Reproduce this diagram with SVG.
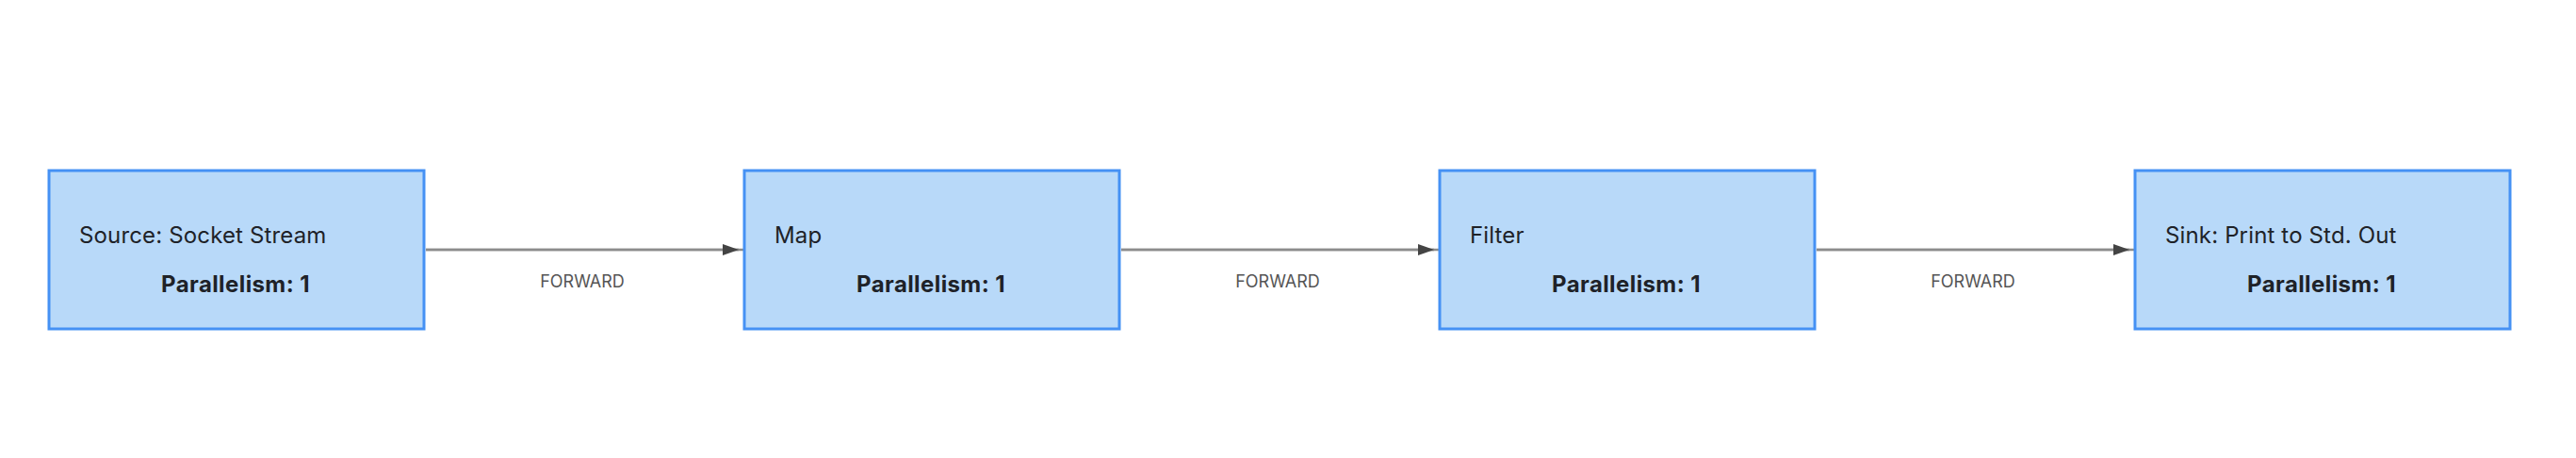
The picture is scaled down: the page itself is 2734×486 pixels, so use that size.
<svg xmlns="http://www.w3.org/2000/svg" width="2734" height="486" viewBox="0 0 2734 486">
  <defs>
    <style>
      .box { fill: #b8d9f9; stroke: #4591f4; stroke-width: 3; }
      .title { font-family: Inter, "Liberation Sans", sans-serif; font-size: 24px; letter-spacing: 0.15px; fill: #1e2228; }
      .par { font-family: Inter, "Liberation Sans", sans-serif; font-size: 24px; font-weight: 700; letter-spacing: 0.4px; fill: #1e2228; text-anchor: middle; }
      .edge { stroke: #8c8c8c; stroke-width: 2.5; fill: none; }
      .elabel { font-family: Inter, "Liberation Sans", sans-serif; font-size: 18px; fill: #555555; text-anchor: middle; }
    </style>
    <marker id="arrow" viewBox="0 0 17 12" refX="17" refY="6" markerWidth="17" markerHeight="12" markerUnits="userSpaceOnUse" orient="auto">
      <path d="M0,0 L17,6 L0,12 z" fill="#444444"/>
    </marker>
  </defs>
  <rect width="2734" height="486" fill="#ffffff"/>
  <g id="connectors">
    <line class="edge" x1="452" y1="265" x2="789" y2="265"/>
    <line class="edge" x1="452" y1="265" x2="784" y2="265" marker-end="url(#arrow)"/>
    <text class="elabel" x="618" y="305">FORWARD</text>
    <line class="edge" x1="1190" y1="265" x2="1527" y2="265"/>
    <line class="edge" x1="1190" y1="265" x2="1522" y2="265" marker-end="url(#arrow)"/>
    <text class="elabel" x="1356" y="305">FORWARD</text>
    <line class="edge" x1="1928" y1="265" x2="2265" y2="265"/>
    <line class="edge" x1="1928" y1="265" x2="2260" y2="265" marker-end="url(#arrow)"/>
    <text class="elabel" x="2094" y="305">FORWARD</text>
  </g>
  <g id="node-source">
    <rect class="box" x="52" y="181" width="398" height="168"/>
    <text class="title" x="84" y="258">Source: Socket Stream</text>
    <text class="par" x="250" y="310">Parallelism: 1</text>
  </g>
  <g id="node-map">
    <rect class="box" x="790" y="181" width="398" height="168"/>
    <text class="title" x="822" y="258">Map</text>
    <text class="par" x="988" y="310">Parallelism: 1</text>
  </g>
  <g id="node-filter">
    <rect class="box" x="1528" y="181" width="398" height="168"/>
    <text class="title" x="1560" y="258">Filter</text>
    <text class="par" x="1726" y="310">Parallelism: 1</text>
  </g>
  <g id="node-sink">
    <rect class="box" x="2266" y="181" width="398" height="168"/>
    <text class="title" x="2298" y="258">Sink: Print to Std. Out</text>
    <text class="par" x="2464" y="310">Parallelism: 1</text>
  </g>
</svg>
